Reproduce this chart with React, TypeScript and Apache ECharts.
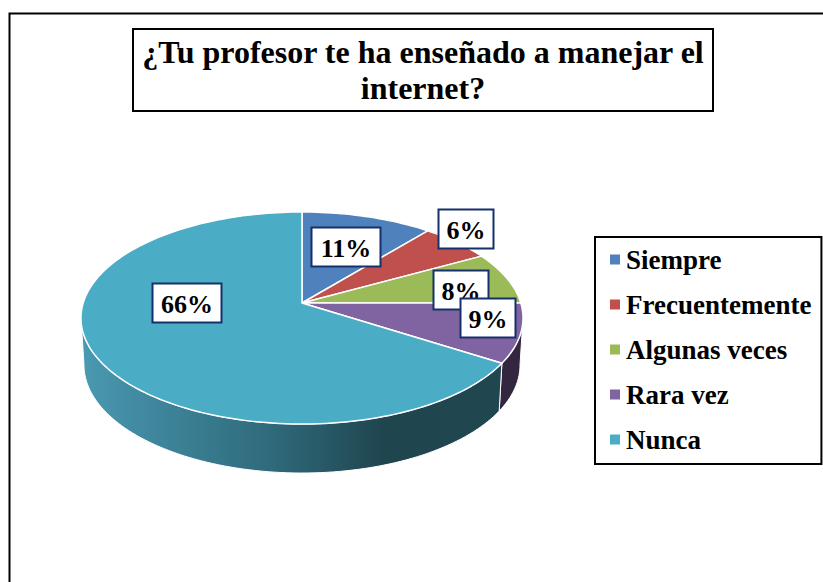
import React, { useEffect, useRef } from "react";
import * as echarts from "echarts";

const titleText = "¿Tu profesor te ha enseñado a manejar el\ninternet?";
const categories = ["Siempre", "Frecuentemente", "Algunas veces", "Rara vez", "Nunca"];
const values = [11, 6, 8, 9, 66];
const labels = ["11%", "6%", "8%", "9%", "66%"];
const colors = ["#4f81bd", "#c0504d", "#9bbb59", "#8064a2", "#4bacc6"];
const labelCentres = [[346, 247], [466, 229], [461, 290], [488, 318], [187, 303]];
const FONT = "'Liberation Serif', 'Times New Roman', serif";

// Tilted-disc projection
const VX = 302, VY = 303, A = 218.8, B = 103.9, K = -0.1415;
const ECY = 318, ERX = 221, ERY = 106;
const BCY = 365, BRX = 218, BRY = 108;
const WALL_FROM = 98, WALL_TO = 262;

const project = (deg: number) => {
  const t = (deg * Math.PI) / 180;
  const u = Math.sin(t), v = -Math.cos(t), w = 1 + K * v;
  return [VX + (A * u) / w, VY + (B * v) / w];
};
const lower = (p: number[]) => [
  VX + (BRX * (p[0] - VX)) / ERX,
  BCY + (BRY * (p[1] - ECY)) / ERY,
];
const rim = (from: number, to: number) => {
  const n = Math.max(2, Math.ceil((to - from) / 1.5));
  const pts: number[][] = [];
  for (let i = 0; i <= n; i++) pts.push(project(from + ((to - from) * i) / n));
  return pts;
};
const total = values.reduce((a, b) => a + b, 0);
const startOf = (i: number) => (values.slice(0, i).reduce((a, b) => a + b, 0) / total) * 360;

const wallFill = (i: number): any =>
  i === 4
    ? new echarts.graphic.LinearGradient(0, 0, 1, 0, [
        { offset: 0, color: "#4a9ab2" },
        { offset: 0.12, color: "#428ca3" },
        { offset: 0.45, color: "#2f6a7b" },
        { offset: 0.72, color: "#1f454f" },
        { offset: 1, color: "#20464f" },
      ])
    : "#33263f";

const sliceRenderer = (i: number) => (_p: any, api: any) => {
  const from = startOf(i);
  const to = from + (api.value(0) / total) * 360;
  const children: any[] = [];
  const wa = Math.max(from, WALL_FROM), wb = Math.min(to, WALL_TO);
  if (wb > wa) {
    const top = rim(wa, wb);
    children.push({
      type: "polygon",
      shape: { points: [...top, ...top.map(lower).reverse()] },
      style: { fill: wallFill(i), stroke: "#ffffff", lineWidth: 1 },
    });
  }
  children.push({
    type: "polygon",
    shape: { points: [[VX, VY], ...rim(from, to)] },
    style: { fill: colors[i], stroke: "#ffffff", lineWidth: 1.5, lineJoin: "round" },
  });
  return { type: "group", children };
};

const labelRenderer = (p: any) => {
  const i = p.dataIndex;
  const [cx, cy] = labelCentres[i];
  const w = labels[i].length > 2 ? 69 : 55;
  const h = 39;
  return {
    type: "group",
    children: [
      {
        type: "rect",
        shape: { x: cx - w / 2, y: cy - h / 2, width: w, height: h },
        style: { fill: "#ffffff", stroke: "#17306b", lineWidth: 2 },
      },
      {
        type: "text",
        style: {
          text: labels[i],
          x: cx,
          y: cy + 1,
          align: "center",
          verticalAlign: "middle",
          fill: "#000000",
          font: `bold 26px ${FONT}`,
        },
      },
    ],
  };
};

export default function App() {
  const ref = useRef<HTMLDivElement>(null);
  useEffect(() => {
    const chart = echarts.init(ref.current!, null, { renderer: "svg" });
    chart.setOption({
      animation: false,
      backgroundColor: "#ffffff",
      graphic: [
        {
          type: "rect",
          silent: true,
          shape: { x: 9.5, y: 13.5, width: 900, height: 700 },
          style: { fill: "none", stroke: "#000000", lineWidth: 2 },
        },
      ],
      title: {
        text: titleText,
        left: 414,
        top: 29,
        textAlign: "center",
        padding: [5, 9, 5, 9],
        backgroundColor: "#ffffff",
        borderColor: "#000000",
        borderWidth: 2,
        textStyle: {
          fontFamily: FONT,
          fontWeight: "bold",
          fontSize: 32,
          lineHeight: 36,
          color: "#000000",
        },
      },
      legend: {
        data: categories,
        orient: "vertical",
        left: 595,
        top: 237,
        icon: "rect",
        itemWidth: 10,
        itemHeight: 10,
        itemGap: 18,
        padding: [9, 10, 11, 15],
        backgroundColor: "#ffffff",
        borderColor: "#000000",
        borderWidth: 2,
        borderRadius: 0,
        textStyle: {
          fontFamily: FONT,
          fontWeight: "bold",
          fontSize: 27,
          lineHeight: 26,
          color: "#000000",
          padding: [0, 0, 0, 1],
        },
      },
      series: [
        ...categories.map((name, i) => ({
          type: "custom",
          name,
          coordinateSystem: "none",
          silent: true,
          itemStyle: { color: colors[i] },
          data: [[values[i]]],
          renderItem: sliceRenderer(i),
        })),
        {
          type: "custom",
          name: "Etiquetas",
          coordinateSystem: "none",
          silent: true,
          z: 5,
          data: values.map((v) => [v]),
          renderItem: labelRenderer,
        },
      ],
    });
    return () => chart.dispose();
  }, []);
  return (
    <div
      ref={ref}
      style={{ position: "fixed", left: 0, top: 0, width: 823, height: 582, overflow: "hidden" }}
    />
  );
}
